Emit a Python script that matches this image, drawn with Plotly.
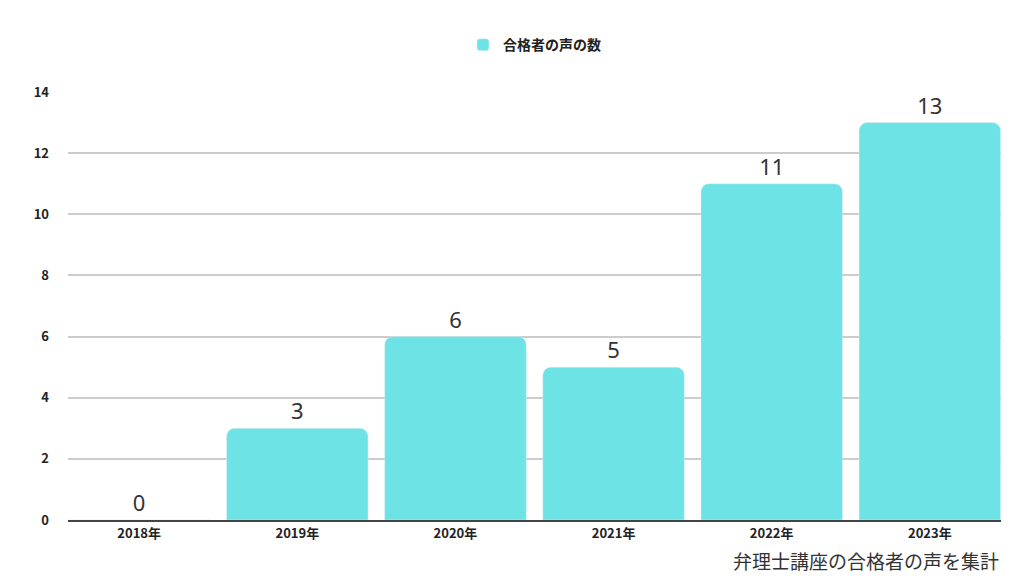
import plotly.graph_objects as go

years = ["2018年", "2019年", "2020年", "2021年", "2022年", "2023年"]
counts = [0, 3, 6, 5, 11, 13]
series_name = "合格者の声の数"
y_ticks = [0, 2, 4, 6, 8, 10, 12, 14]

fig = go.Figure(go.Bar(
    x=years, y=counts, name=series_name,
    marker=dict(color="#6de3e6", cornerradius=8),
    text=[str(v) for v in counts], textposition="outside",
    textfont=dict(size=22, color="#333333", family="Noto Sans"),
    cliponaxis=False, showlegend=True,
))
fig.update_layout(
    width=1024, height=576, paper_bgcolor="white", plot_bgcolor="white",
    margin=dict(l=60, r=31, t=84, b=64, autoexpand=False),
    bargap=0.105,
    font=dict(family="Noto Sans CJK JP", color="#222222"),
    legend=dict(orientation="h", x=0.5, xanchor="center", y=1.072, yanchor="bottom",
                font=dict(size=14, weight="bold"), itemwidth=30),
    xaxis=dict(range=[-0.45, 5.45], tickfont=dict(size=13, weight="bold"), showline=True,
               linecolor="#444", linewidth=2, automargin=False),
    yaxis=dict(range=[0, 14], tickvals=y_ticks, tickfont=dict(size=13, weight="bold"),
               gridcolor="#cccccc", gridwidth=1.5, zeroline=False, ticklabelstandoff=18,
               automargin=False),
    annotations=[dict(text="弁理士講座の合格者の声を集計", xref="paper", yref="paper",
                      x=1.0, y=-0.13, xanchor="right", yanchor="bottom", showarrow=False,
                      font=dict(size=19, color="#333333"))],
)
fig.write_html("out.html")
